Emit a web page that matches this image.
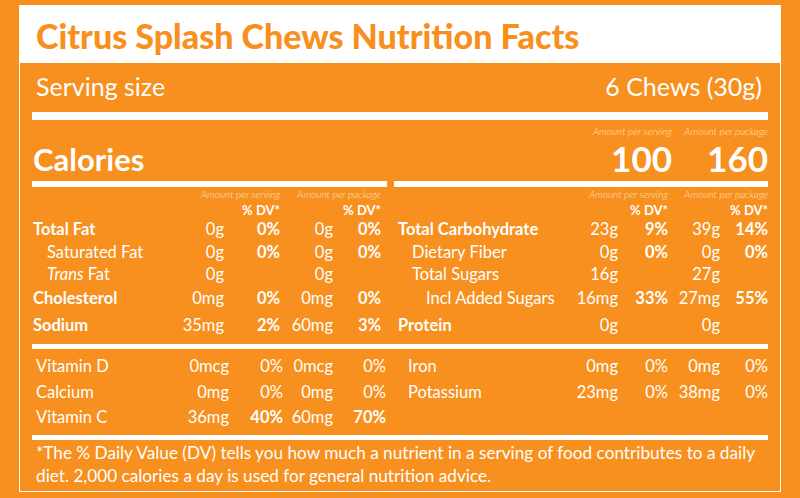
<!DOCTYPE html><html><head><meta charset="utf-8">
<script src="https://cdn.jsdelivr.net/npm/chart.js@4"></script>
<style>
body{margin:0;width:800px;height:498px;background:#F7901E;font-family:Lato,sans-serif;color:#fff;overflow:hidden;position:relative}
.t{position:absolute;white-space:nowrap;line-height:1}
.r{transform:translate(-100%,-50%)}.l{transform:translate(0,-50%)}
.b{font-weight:700}.i{font-style:italic;font-weight:300;font-size:10px;color:#FFE3C2}
.bar{position:absolute;background:#fff}
</style></head><body>
<div style="position:absolute;left:19px;top:5px;width:762px;height:487px;border:1.5px solid #fff;box-sizing:border-box"></div>
<div style="position:absolute;left:19px;top:5px;width:762px;height:58px;background:#fff"></div>
<div id="root"></div>
<script>
const title="Citrus Splash Chews Nutrition Facts";
const servingLabel="Serving size", servingValue="6 Chews (30g)";
const calories=["100","160"];
const leftRows=[["Total Fat","0g","0%","0g","0%",1,0],["Saturated Fat","0g","0%","0g","0%",0,1],["<i>Trans</i> Fat","0g","","0g","",0,1],["Cholesterol","0mg","0%","0mg","0%",1,0],["Sodium","35mg","2%","60mg","3%",1,0]];
const rightRows=[["Total Carbohydrate","23g","9%","39g","14%",1,0],["Dietary Fiber","0g","0%","0g","0%",0,1],["Total Sugars","16g","","27g","",0,1],["Incl Added Sugars","16mg","33%","27mg","55%",0,2],["Protein","0g","","0g","",1,0]];
const vitLeft=[["Vitamin D","0mcg","0%","0mcg","0%",0],["Calcium","0mg","0%","0mg","0%",0],["Vitamin C","36mg","40%","60mg","70%",1]];
const vitRight=[["Iron","0mg","0%","0mg","0%",0],["Potassium","23mg","0%","38mg","0%",0]];
const footnote=["*The % Daily Value (DV) tells you how much a nutrient in a serving of food contributes to a daily","diet. 2,000 calories a day is used for general nutrition advice."];
const root=document.getElementById('root');
function T(txt,x,y,cls,st){const d=document.createElement('div');d.className='t '+cls;d.innerHTML=txt;d.style.left=x+'px';d.style.top=y+'px';if(st)Object.assign(d.style,st);root.appendChild(d);}
function B(x,y,w,h){const d=document.createElement('div');d.className='bar';Object.assign(d.style,{left:x+'px',top:y+'px',width:w+'px',height:h+'px'});root.appendChild(d);}
T(title,36,36,'l b',{color:'#F7901E',fontSize:'34px',fontWeight:900});
T(servingLabel,36,86,'l',{fontSize:'25px',fontWeight:400});
T(servingValue,762,86,'r',{fontSize:'25px',fontWeight:400});
B(32,112,736,8);
T("Amount per serving",672,131,'r i');T("Amount per package",768,131,'r i');
T("Calories",33,159,'l b',{fontSize:'31px'});
T(calories[0],672,158,'r b',{fontSize:'35px'});T(calories[1],768,158,'r b',{fontSize:'35px'});
B(32,181,355,6);B(394,181,374,6);
const ys=[229,252,274,298,325];
function hdr(x1,x2){T("Amount per serving",x1,194,'r i');T("Amount per package",x2,194,'r i');T("% DV*",x1,210,'r b',{fontSize:'13px'});T("% DV*",x2,210,'r b',{fontSize:'13px'});}
hdr(280,381);hdr(668,768);
function rows(data,lx,cols){data.forEach((r,k)=>{const y=ys[k];
T(r[0],lx+(r[6]?r[6]*14:0),y,'l'+(r[5]?' b':''),{fontSize:'16.5px',fontWeight:r[5]?700:400});
T(r[1],cols[0],y,'r',{fontSize:'16.5px',fontWeight:400});T(r[2],cols[1],y,'r b',{fontSize:'16.5px'});
T(r[3],cols[2],y,'r',{fontSize:'16.5px',fontWeight:400});T(r[4],cols[3],y,'r b',{fontSize:'16.5px'});});}
rows(leftRows,33,[224,280,333,381]);rows(rightRows,398,[618,668,720,768]);
B(32,344,736,5);
const vy=[366,392,417];
function vit(data,lx,cols){data.forEach((r,k)=>{const y=vy[k],w=r[5]?700:400;
T(r[0],lx,y,'l',{fontSize:'16.5px',fontWeight:400});T(r[1],cols[0],y,'r',{fontSize:'16.5px',fontWeight:400});
T(r[2],cols[1],y,'r',{fontSize:'16.5px',fontWeight:w});T(r[3],cols[2],y,'r',{fontSize:'16.5px',fontWeight:400});T(r[4],cols[3],y,'r',{fontSize:'16.5px',fontWeight:w});});}
vit(vitLeft,36,[229,283,333,386]);vit(vitRight,408,[618,668,720,768]);
B(32,435,736,5);
T(footnote[0],36,453,'l',{fontSize:'17.2px',fontWeight:400});T(footnote[1],36,476,'l',{fontSize:'17.2px',fontWeight:400});
</script></body></html>
